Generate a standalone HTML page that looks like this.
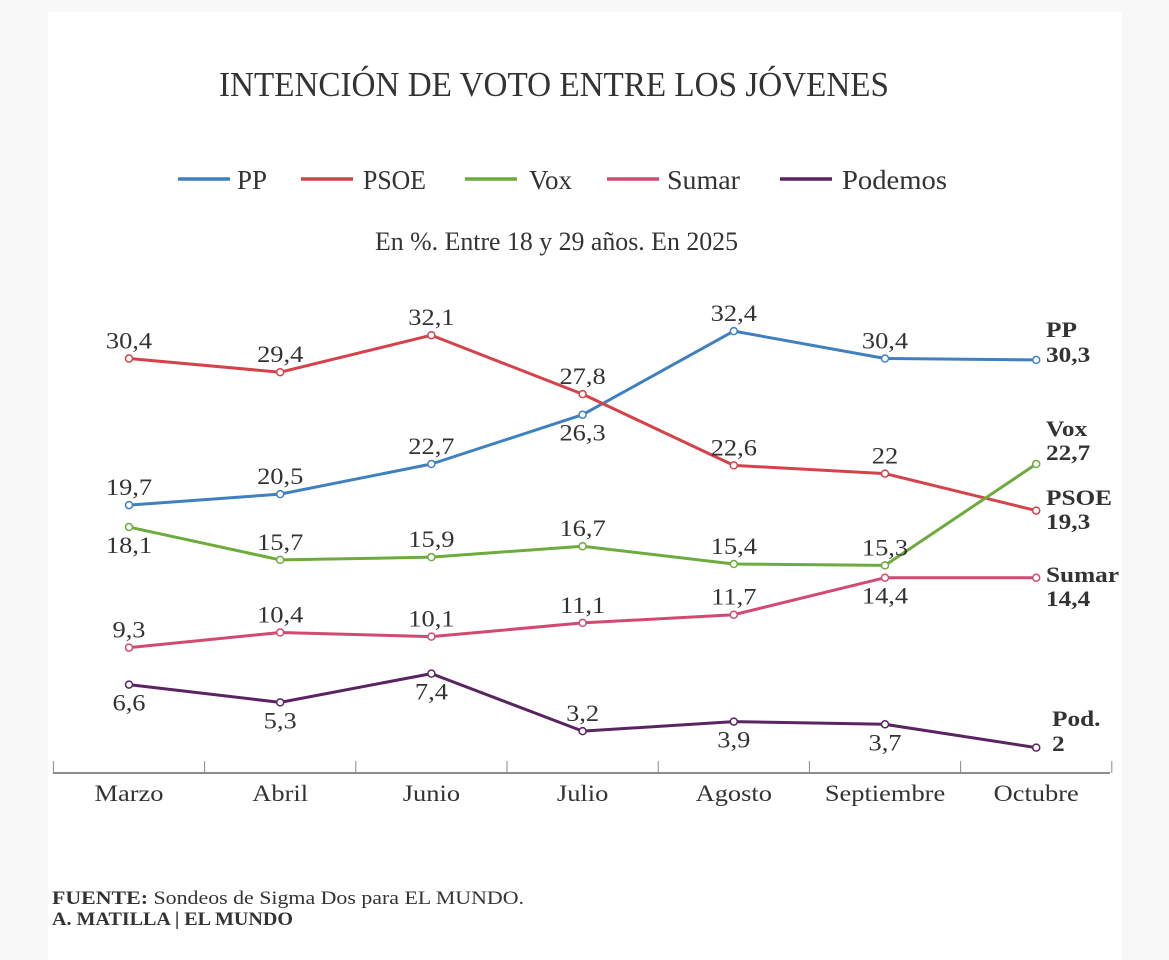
<!DOCTYPE html>
<html><head><meta charset="utf-8">
<style>
html,body{margin:0;padding:0;background:#f8f8f8;}
svg{display:block;}
text{font-family:"Liberation Serif",serif;fill:#333;}
</style></head>
<body>
<svg id="chart" width="1169" height="960" viewBox="0 0 1169 960">
<rect x="0" y="0" width="1169" height="960" fill="#f8f8f8"/>
<rect x="48" y="12" width="1074" height="948" fill="#fff"/>
<text x="554" y="96" text-anchor="middle" font-size="35" textLength="670" lengthAdjust="spacingAndGlyphs">INTENCIÓN DE VOTO ENTRE LOS JÓVENES</text>
<g id="legend"></g>
<text x="375" y="250" font-size="26" textLength="363" lengthAdjust="spacingAndGlyphs">En %. Entre 18 y 29 años. En 2025</text>
<g id="axis"></g>
<g id="series"></g>
<text x="52" y="904" font-size="19" textLength="472" lengthAdjust="spacingAndGlyphs"><tspan font-weight="bold">FUENTE:</tspan> Sondeos de Sigma Dos para EL MUNDO.</text>
<text x="52" y="925" font-size="19" font-weight="bold" textLength="241" lengthAdjust="spacingAndGlyphs">A. MATILLA | EL MUNDO</text>
</svg>
<script>
const categories=["Marzo","Abril","Junio","Julio","Agosto","Septiembre","Octubre"];
const ppValues=[19.7,20.5,22.7,26.3,32.4,30.4,30.3];
const psoeValues=[30.4,29.4,32.1,27.8,22.6,22,19.3];
const voxValues=[18.1,15.7,15.9,16.7,15.4,15.3,22.7];
const sumarValues=[9.3,10.4,10.1,11.1,11.7,14.4,14.4];
const podemosValues=[6.6,5.3,7.4,3.2,3.9,3.7,2];
const ppLabelPos=["a","a","a","b","a","a",""];
const psoeLabelPos=["a","a","a","a","a","a",""];
const voxLabelPos=["b","a","a","a","a","a",""];
const sumarLabelPos=["a","a","a","a","a","b",""];
const podemosLabelPos=["b","b","b","a","b","b",""];
const seriesNames=["PP","PSOE","Vox","Sumar","Podemos"];
const endNames=["PP","PSOE","Vox","Sumar","Pod."];

const NS="http://www.w3.org/2000/svg";
const colors=["#3f80c0","#d4424a","#6dab3c","#d24a72","#5a2462"];
const X0=129,DX=151.2,Y0=775,KY=13.7,SX=1.15;
const xs=i=>X0+i*DX;
const ys=v=>Y0-v*KY;
function mk(tag,parent,attrs){const e=document.createElementNS(NS,tag);for(const k in attrs)e.setAttribute(k,attrs[k]);parent.appendChild(e);return e;}
function stext(parent,x,y,size,anchor,bold){
  const t=mk('text',parent,{x:0,y:0,'font-size':size,'text-anchor':anchor,transform:'translate('+x+','+y+') scale('+SX+',1)'});
  if(bold)t.setAttribute('font-weight','bold');
  return t;
}
const fmt=v=>String(v).replace('.',',');

// legend
const lg=document.getElementById('legend');
const legX=[178,301,465,607,780];
const legTX=[237,363,529,667,842];
const legW=[30,63,43,73,105];
seriesNames.forEach((n,i)=>{
  const l=mk('line',lg,{x1:legX[i],x2:legX[i]+52,y1:179,y2:179,stroke:colors[i],'stroke-width':3.5});
  
  
  const t=mk('text',lg,{x:legTX[i],y:189,'font-size':27,textLength:legW[i],lengthAdjust:'spacingAndGlyphs'});
  t.textContent=n;
  
  
});

// axis
const ax=document.getElementById('axis');
const base=mk('line',ax,{x1:53,x2:1110,y1:773,y2:773,stroke:'#666','stroke-width':1.5});


for(let i=0;i<=categories.length;i++){
  const tx=xs(i)-DX/2;
  const tk=mk('line',ax,{x1:tx,x2:tx,y1:761,y2:773,stroke:'#888','stroke-width':1});
  
  
}
categories.forEach((c,i)=>{
  const t=stext(ax,xs(i),801,23,'middle',false);
  t.textContent=c;
  
  
});

// series
const sg=document.getElementById('series');
const allVals=[ppValues,psoeValues,voxValues,sumarValues,podemosValues];
const allPos=[ppLabelPos,psoeLabelPos,voxLabelPos,sumarLabelPos,podemosLabelPos];
const endY=[[337,362],[505,529],[436,460],[582,606],[726,751]];
allVals.forEach((vals,s)=>{
  const g=mk('g',sg,{});
  
  
  const p=mk('polyline',g,{points:vals.map((v,i)=>xs(i)+','+ys(v)).join(' '),fill:'none',stroke:colors[s],'stroke-width':3,'stroke-linejoin':'round'});
  
  
  vals.forEach((v,i)=>{
    const c=mk('circle',g,{cx:xs(i),cy:ys(v),r:3.5,fill:'#fff',stroke:colors[s],'stroke-width':1.5});
    
    
    const pos=allPos[s][i];
    if(pos){
      const ty=pos==='a'?ys(v)-10:ys(v)+26;
      const t=stext(g,xs(i),ty,23,'middle',false);
      t.textContent=fmt(v);
      
      
    }
  });
  const last=vals[vals.length-1];
  const ex=s===4?1052:1046;
  const t1=stext(g,ex,endY[s][0],22,'start',true);
  t1.textContent=endNames[s];
  
  
  const t2=stext(g,ex,endY[s][1],22,'start',true);
  t2.textContent=fmt(last);
  
  
});
</script>
</body></html>
